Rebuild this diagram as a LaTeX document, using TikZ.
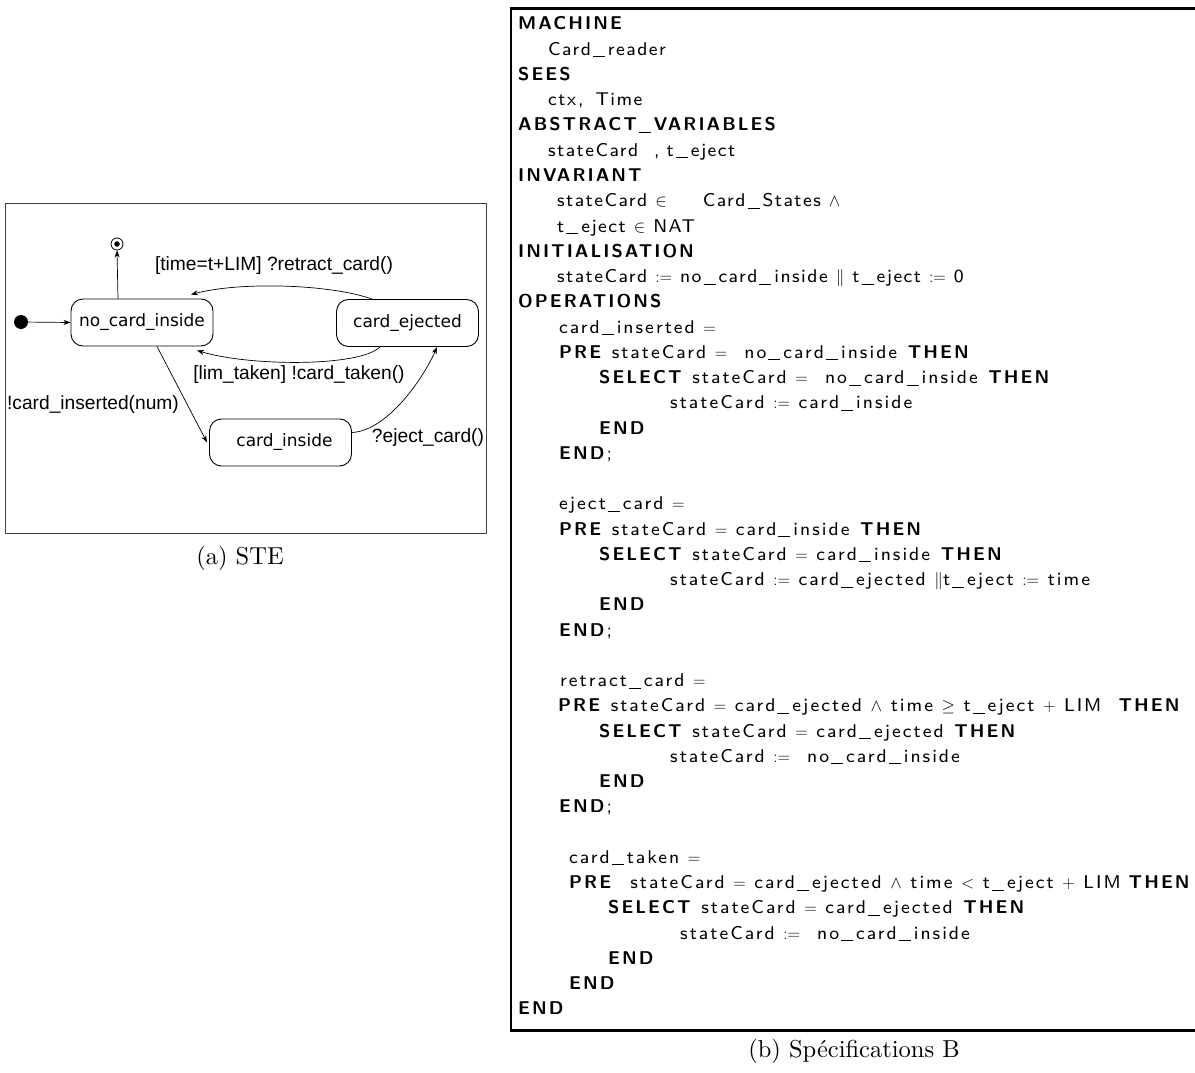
\documentclass[tikz,border=0pt]{standalone}
\usepackage{fontspec}
\usetikzlibrary{arrows.meta}
\setsansfont{lmsans8-regular.otf}[LetterSpace=8,BoldFont=lmsans10-bold.otf,BoldFeatures={LetterSpace=11}]
\newfontfamily\opsfont{lmsans8-regular.otf}[LetterSpace=11,BoldFont=lmsans10-bold.otf,BoldFeatures={LetterSpace=11}]
\newfontfamily\capfont{lmroman10-regular.otf}
\newfontfamily\stefont{DejaVu Sans}
\newfontfamily\lblfont{Liberation Sans}
\newcommand{\us}{\kern2pt\rule[-2pt]{12pt}{0.9pt}\kern3pt}
\newcommand{\kw}[1]{\textbf{#1}}
\begin{document}
\begin{tikzpicture}[x=1pt,y=-1pt,
  state/.style={draw,line width=0.9pt,rounded corners=12pt,minimum width=142pt,minimum height=47pt,inner sep=0pt,font=\stefont\fontsize{17}{20}\selectfont},
  edgelbl/.style={inner sep=0pt,font=\lblfont\fontsize{19.2}{22}\selectfont},
  tr/.style={line width=0.7pt,-{Stealth[length=7pt,width=5pt,inset=2pt]}},
  cl/.style={anchor=base west,inner sep=0pt,font=\sffamily\fontsize{18.5}{22}\selectfont},
  ol/.style={anchor=base west,inner sep=0pt,font=\opsfont\fontsize{18.5}{22}\selectfont},
  capt/.style={inner sep=0pt,font=\capfont\fontsize{24.5}{28}\selectfont}]
\useasboundingbox (0,0) rectangle (1195,1073);
% ---------- (a) STE ----------
\draw[line width=0.8pt,black!75] (5,203) rectangle (486,533);
\node[state] (nci) at (142,322.5) {no\_card\_inside};
\node[state] (ce) at (407.5,323) {card\_ejected};
\node[state] (ci) at (280.5,442.5) {\hspace{8pt}card\_inside};
\node[circle,fill=black,inner sep=0pt,minimum size=14pt] (init) at (21,322) {};
\node[circle,draw,line width=0.8pt,inner sep=0pt,minimum size=12pt] (fin) at (117,244) {};
\node[circle,fill=black,inner sep=0pt,minimum size=5.5pt] (finc) at (117,244) {};
\draw[tr] (init) -- (nci.west);
\draw[tr] ([xshift=-24pt]nci.north) -- (fin.south);
\draw[tr] ([xshift=-35.5pt]ce.north) .. controls +(-42,-15) and +(49,-13) .. ([xshift=49pt,yshift=4pt]nci.north);
\draw[tr] ([xshift=-27.5pt]ce.south) .. controls +(-20,20) and +(53,16) .. ([xshift=55pt,yshift=-4pt]nci.south);
\draw[tr] ([xshift=15pt]nci.south) -- ([xshift=-2pt]ci.west);
\draw[tr] ([yshift=10pt]ci.east) .. controls +(37,-2) and +(-12,28) .. ([xshift=29.5pt]ce.south);
\node[edgelbl] (l1) at (274,266) {[time=t+LIM] ?retract\_card()};
\node[edgelbl] (l2) at (299,375) {[lim\_taken] !card\_taken()};
\node[edgelbl] (l3) at (93,405) {!card\_inserted(num)};
\node[edgelbl] (l4) at (428,438) {?eject\_card()};
\node[capt] (capa) at (240,558) {(a) STE};
% ---------- (b) B ----------
\draw[line width=2.6pt] (1196,8.5) -- (511,8.5) -- (511,1030.5) -- (1196,1030.5);
\node[cl] (c0) at (518,30) {\kw{MACHINE}};
\node[cl] (c1) at (548,55.25) {Card\us reader};
\node[cl] (c2) at (518,80.5) {\kw{SEES}};
\node[cl] (c3) at (548,105.75) {ctx\kern2pt,\hspace{12pt}Time};
\node[cl] (c4) at (518,131) {\kw{ABSTRACT\us VARIABLES}};
\node[cl] (c5) at (548,156.25) {stateCard\hspace{16pt},\hspace{7pt}t\us eject};
\node[cl] (c6) at (518,181.5) {\kw{INVARIANT}};
\node[cl] (c7) at (557,206.75) {stateCard $\in$\hspace{36pt}Card\us States $\wedge$};
\node[cl] (c8) at (557,232) {t\us eject $\in$ NAT};
\node[cl] (c9) at (518,257.25) {\kw{INITIALISATION}};
\node[cl] (c10) at (557,282.5) {stateCard $:=$ no\us card\us inside $\|$ t\us eject $:=$ 0};
\node[cl] (c11) at (518,307.75) {\kw{OPERATIONS}};
\node[ol] (c12) at (559,333) {card\us inserted $=$};
\node[ol] (c13) at (559,358.25) {\kw{PRE} stateCard $=$\ \ no\us card\us inside \kw{THEN}};
\node[ol] (c14) at (599,383.5) {\kw{SELECT} stateCard $=$\ \ no\us card\us inside \kw{THEN}};
\node[ol] (c15) at (670,408.75) {stateCard\ $:=$ card\us inside};
\node[ol] (c16) at (599,434) {\kw{END}};
\node[ol] (c17) at (559,459.25) {\kw{END};};
\node[ol] (c19) at (559,509.75) {eject\us card $=$};
\node[ol] (c20) at (559,535) {\kw{PRE} stateCard $=$ card\us inside \kw{THEN}};
\node[ol] (c21) at (599,560.25) {\kw{SELECT} stateCard $=$ card\us inside \kw{THEN}};
\node[ol] (c22) at (670,585.5) {stateCard\ $:=$ card\us ejected $\|$t\us eject $:=$ time};
\node[ol] (c23) at (599,610.75) {\kw{END}};
\node[ol] (c24) at (559,636) {\kw{END};};
\node[ol] (c26) at (560,686.5) {retract\us card\ $=$};
\node[ol] (c27) at (558,711.75) {\kw{PRE} stateCard $=$ card\us ejected $\wedge$ time $\geq$ t\us eject $+$ LIM\ \ \kw{THEN}};
\node[ol] (c28) at (599,737) {\kw{SELECT} stateCard $=$ card\us ejected \kw{THEN}};
\node[ol] (c29) at (670,762.25) {stateCard\ $:=$\ \ no\us card\us inside};
\node[ol] (c30) at (599,787.5) {\kw{END}};
\node[ol] (c31) at (559,812.75) {\kw{END};};
\node[ol] (c33) at (569,863.25) {card\us taken $=$};
\node[ol] (c34) at (569,888.5) {\kw{PRE}\ \ stateCard $=$ card\us ejected $\wedge$ time $<$ t\us eject $+$ LIM\hspace{6pt}\kw{THEN}};
\node[ol] (c35) at (608,913.75) {\kw{SELECT} stateCard $=$ card\us ejected \kw{THEN}};
\node[ol] (c36) at (680,939) {stateCard\ $:=$\ \ no\us card\us inside};
\node[ol] (c37) at (608,964.25) {\kw{END}};
\node[ol] (c38) at (569,989.5) {\kw{END}};
\node[cl] (c39) at (518,1014.75) {\kw{END}};
\node[capt] (capb) at (854,1051.5) {(b) Spécifications B};
\end{tikzpicture}
\end{document}
